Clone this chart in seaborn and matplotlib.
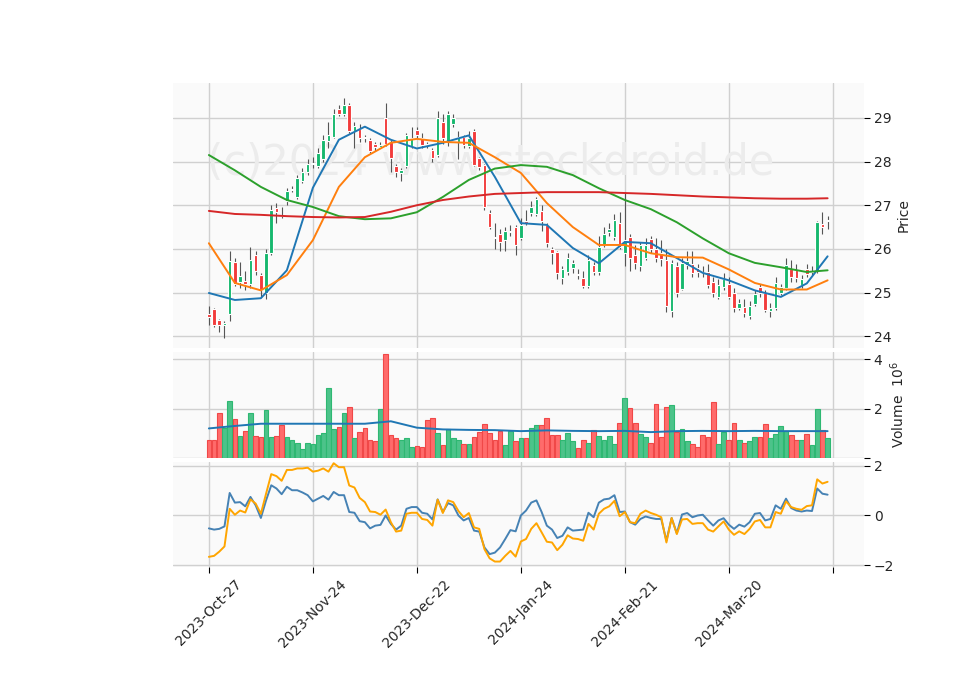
import numpy as np
import pandas as pd
import matplotlib
matplotlib.use("Agg")
import matplotlib.pyplot as plt
import seaborn as sns

# --- data ---
tick_labels = ["2023-Oct-27", "2023-Nov-24", "2023-Dec-22", "2024-Jan-24", "2024-Feb-21", "2024-Mar-20"]
tick_pos = [0, 20, 40, 60, 80, 100]

opens = [24.5, 24.62, 24.38, 24.25, 24.5, 25.7, 25.24, 25.26, 25.2, 25.85,
         25.4, 25.0, 25.9, 26.93, 26.77, 27.1, 27.35, 27.2, 27.55, 27.75,
         27.94, 27.9, 28.05, 28.47, 28.57, 29.2, 29.1, 29.3, 28.7, 28.75,
         28.56, 28.5, 28.4, 28.34, 29.0, 28.45, 27.9, 27.74, 27.9, 28.35,
         28.72, 28.55, 28.39, 28.27, 28.15, 28.9, 28.45, 28.85, 28.45, 28.56,
         28.35, 28.7, 28.08, 27.92, 26.82, 26.27, 26.35, 26.2, 26.38, 26.5,
         26.25, 26.62, 26.82, 26.8, 26.87, 26.55, 26.0, 25.92, 25.33, 25.47,
         25.56, 25.42, 25.33, 25.15, 25.62, 25.47, 26.1, 26.38, 26.27, 26.6,
         25.9, 26.27, 25.86, 25.6, 25.8, 26.22, 26.0, 25.9, 25.75, 24.57,
         25.6, 25.08, 25.63, 25.65, 25.56, 25.46, 25.47, 25.24, 24.9, 25.12,
         25.2, 25.0, 24.64, 24.67, 24.46, 24.73, 25.12, 24.99, 24.57, 24.65,
         25.0, 25.1, 25.54, 25.51, 25.17, 25.54, 25.46, 25.5, 26.58, 26.63]
closes = [24.45, 24.25, 24.25, 24.3, 25.72, 25.2, 25.38, 25.2, 25.75, 25.5,
          25.05, 25.9, 26.89, 26.85, 26.75, 27.33, 27.38, 27.62, 27.76, 27.95,
          27.96, 28.2, 28.5, 28.6, 29.1, 29.1, 29.3, 28.7, 28.82, 28.55,
          28.54, 28.25, 28.33, 28.36, 28.4, 28.08, 27.76, 27.8, 28.6, 28.55,
          28.6, 28.38, 28.37, 28.08, 29.0, 28.55, 29.08, 29.0, 28.56, 28.38,
          28.55, 27.92, 27.87, 26.96, 26.5, 26.25, 26.15, 26.4, 26.42, 26.08,
          26.55, 26.6, 26.96, 27.14, 26.64, 26.13, 25.9, 25.45, 25.55, 25.8,
          25.68, 25.4, 25.15, 25.74, 25.47, 26.05, 26.35, 26.45, 26.67, 26.05,
          26.2, 25.8, 25.67, 26.09, 26.08, 26.0, 25.8, 25.78, 24.69, 25.67,
          25.0, 25.67, 25.72, 25.45, 25.47, 25.45, 25.17, 24.98, 25.17, 25.3,
          24.9, 24.64, 24.76, 24.53, 24.69, 24.96, 24.99, 24.6, 24.64, 25.22,
          25.12, 25.63, 25.35, 25.33, 25.31, 25.42, 25.47, 26.61, 26.51, 26.64]
highs = [24.7, 24.65, 24.4, 24.35, 25.95, 25.8, 25.7, 25.5, 26.05, 25.95,
         25.45, 26.0, 27.0, 27.05, 26.95, 27.4, 27.45, 27.7, 27.85, 28.05,
         28.1, 28.3, 28.6, 28.9, 29.2, 29.3, 29.45, 29.35, 28.9, 28.85,
         28.6, 28.55, 28.45, 28.45, 29.35, 28.5, 27.95, 27.85, 28.65, 28.8,
         28.8, 28.65, 28.45, 28.3, 29.15, 29.1, 29.15, 29.1, 28.7, 28.6,
         28.7, 28.75, 28.1, 27.95, 26.9, 26.6, 26.45, 26.5, 26.55, 26.55,
         26.7, 26.9, 27.1, 27.2, 27.0, 26.6, 26.05, 25.95, 25.6, 25.9,
         25.75, 25.55, 25.5, 25.85, 25.7, 26.3, 26.5, 26.6, 26.8, 26.85,
         27.3, 26.35, 26.1, 26.15, 26.25, 26.3, 26.25, 26.2, 26.0, 25.75,
         25.7, 25.8, 25.95, 25.95, 25.65, 25.6, 25.65, 25.35, 25.3, 25.45,
         25.35, 25.1, 24.85, 24.85, 24.8, 25.05, 25.2, 25.05, 24.75, 25.35,
         25.2, 25.8, 25.75, 25.65, 25.4, 25.65, 25.6, 26.65, 26.85, 26.75]
lows = [24.25, 24.2, 24.1, 23.95, 24.35, 25.15, 25.1, 25.05, 25.1, 25.4,
        24.9, 24.85, 25.85, 26.6, 26.7, 27.0, 27.3, 27.15, 27.5, 27.7,
        27.85, 27.85, 28.0, 28.3, 28.55, 29.05, 29.05, 28.65, 28.3, 28.45,
        28.45, 28.2, 28.25, 28.3, 28.35, 27.75, 27.65, 27.55, 27.85, 28.3,
        28.55, 28.3, 28.3, 28.0, 28.1, 28.4, 28.35, 28.8, 28.05, 28.3,
        28.3, 27.9, 27.8, 26.9, 26.45, 26.0, 25.95, 25.95, 26.3, 25.85,
        26.2, 26.55, 26.75, 26.75, 26.4, 26.05, 25.65, 25.3, 25.2, 25.4,
        25.45, 25.3, 25.1, 25.1, 25.4, 25.4, 26.05, 26.3, 26.2, 26.0,
        25.6, 25.5, 25.55, 25.5, 25.75, 25.9, 25.7, 25.6, 24.55, 24.45,
        24.9, 25.05, 25.55, 25.35, 25.35, 25.35, 25.1, 24.9, 24.85, 25.05,
        24.85, 24.55, 24.6, 24.45, 24.4, 24.7, 24.9, 24.55, 24.45, 24.6,
        24.95, 25.05, 25.25, 25.25, 25.1, 25.35, 25.4, 25.45, 26.35, 26.45]

volume = [0.75, 0.75, 1.84, 1.2, 2.32, 1.58, 0.88, 1.1, 1.84, 0.88,
          0.84, 1.93, 0.84, 0.88, 1.33, 0.84, 0.75, 0.62, 0.38, 0.62,
          0.58, 0.93, 1.01, 2.84, 1.19, 1.25, 1.84, 2.06, 0.8, 1.06,
          1.23, 0.71, 0.67, 1.97, 4.2, 0.93, 0.8, 0.75, 0.8, 0.45,
          0.5, 0.45, 1.54, 1.62, 1.01, 0.54, 1.19, 0.8, 0.75, 0.58,
          0.58, 0.84, 1.06, 1.36, 1.01, 0.75, 1.1, 0.54, 1.1, 0.67,
          0.8, 0.8, 1.23, 1.33, 1.33, 1.62, 0.93, 0.93, 0.75, 1.01,
          0.67, 0.41, 0.71, 0.62, 1.14, 0.88, 0.75, 0.88, 0.58, 1.41,
          2.45, 2.01, 1.41, 0.97, 0.84, 0.62, 2.19, 0.84, 2.06, 2.14,
          1.06, 1.19, 0.67, 0.58, 0.45, 0.93, 0.84, 2.28, 0.58, 1.06,
          0.71, 1.41, 0.75, 0.62, 0.67, 0.84, 0.84, 1.36, 0.8, 0.97,
          1.28, 1.1, 0.93, 0.71, 0.75, 0.97, 0.54, 1.97, 1.14, 0.8]

# moving averages, sampled at these bar positions
ma_idx = [0, 5, 10, 15, 20, 25, 30, 35, 40, 45, 50, 55, 60, 65, 70, 75, 80, 85, 90, 95, 100, 105, 110, 115, 119]
ma_fast = [24.99, 24.83, 24.87, 25.51, 27.4, 28.5, 28.8, 28.5, 28.3, 28.43, 28.6, 27.65, 26.59, 26.55, 26.02, 25.67,
           26.16, 26.13, 25.79, 25.45, 25.28, 25.05, 24.9, 25.21, 25.83]
ma_mid = [26.13, 25.22, 25.05, 25.4, 26.2, 27.42, 28.1, 28.43, 28.52, 28.45, 28.43, 28.1, 27.74, 27.05, 26.5, 26.09,
          26.09, 25.9, 25.81, 25.8, 25.53, 25.22, 25.07, 25.07, 25.28]
ma_slow = [28.15, 27.8, 27.42, 27.12, 26.96, 26.75, 26.68, 26.7, 26.84, 27.19, 27.58, 27.84, 27.92, 27.88, 27.69, 27.39,
           27.12, 26.91, 26.61, 26.24, 25.9, 25.68, 25.58, 25.47, 25.51]
ma_long = [26.87, 26.8, 26.78, 26.75, 26.73, 26.72, 26.73, 26.85, 27.0, 27.12, 27.2, 27.26, 27.28, 27.3, 27.3, 27.3,
           27.28, 27.26, 27.23, 27.2, 27.18, 27.16, 27.15, 27.15, 27.16]
vol_ma = [1.2, 1.3, 1.39, 1.39, 1.39, 1.39, 1.39, 1.49, 1.23, 1.16, 1.14, 1.13, 1.09, 1.12, 1.1, 1.09,
          1.1, 1.05, 1.09, 1.1, 1.09, 1.1, 1.09, 1.09, 1.09]

osc_blue = [-0.52, -0.57, -0.54, -0.44, 0.91, 0.52, 0.54, 0.37, 0.75, 0.41,
            -0.1, 0.61, 1.22, 1.09, 0.86, 1.16, 1.02, 1.02, 0.93, 0.82,
            0.57, 0.68, 0.79, 0.64, 0.95, 0.82, 0.82, 0.14, 0.11, -0.23,
            -0.27, -0.52, -0.41, -0.38, 0.0, -0.34, -0.57, -0.41, 0.27, 0.34,
            0.34, 0.11, 0.07, -0.16, 0.65, 0.14, 0.5, 0.41, 0.0, -0.2,
            -0.1, -0.61, -0.65, -1.29, -1.56, -1.5, -1.29, -0.95, -0.59, -0.64,
            0.0, 0.2, 0.52, 0.61, 0.14, -0.41, -0.57, -0.91, -0.82, -0.48,
            -0.61, -0.59, -0.57, 0.11, -0.07, 0.52, 0.65, 0.68, 0.82, 0.14,
            0.16, -0.27, -0.37, -0.14, -0.04, -0.1, -0.14, -0.14, -1.02, -0.1,
            -0.72, 0.04, 0.1, -0.07, 0.0, 0.03, -0.2, -0.41, -0.2, -0.11,
            -0.37, -0.54, -0.37, -0.45, -0.27, 0.07, 0.1, -0.2, -0.14, 0.41,
            0.27, 0.68, 0.3, 0.2, 0.16, 0.2, 0.18, 1.09, 0.88, 0.84]
osc_orange = [-1.67, -1.63, -1.46, -1.25, 0.27, 0.03, 0.2, 0.12, 0.65, 0.48,
              0.07, 0.88, 1.67, 1.59, 1.4, 1.84, 1.84, 1.9, 1.9, 1.93,
              1.77, 1.81, 1.9, 1.77, 2.11, 1.95, 1.95, 1.21, 1.13, 0.71,
              0.54, 0.16, 0.14, 0.03, 0.24, -0.27, -0.65, -0.61, 0.07, 0.11,
              0.11, -0.14, -0.18, -0.41, 0.64, 0.1, 0.61, 0.54, 0.18, -0.07,
              0.1, -0.48, -0.54, -1.36, -1.73, -1.86, -1.86, -1.63, -1.43, -1.66,
              -1.05, -0.95, -0.54, -0.31, -0.68, -1.06, -1.09, -1.4, -1.18, -0.8,
              -0.93, -0.95, -1.02, -0.34, -0.57, 0.07, 0.27, 0.37, 0.59, -0.03,
              0.14, -0.27, -0.31, 0.07, 0.2, 0.1, 0.03, -0.07, -1.09, -0.1,
              -0.75, -0.16, -0.14, -0.34, -0.31, -0.31, -0.57, -0.65, -0.44, -0.24,
              -0.57, -0.78, -0.64, -0.75, -0.54, -0.24, -0.18, -0.48, -0.48, 0.14,
              0.07, 0.57, 0.34, 0.27, 0.23, 0.38, 0.41, 1.46, 1.29, 1.36]

# --- plotting ---
sns.set_theme(style="whitegrid", context="paper",
              rc={"axes.facecolor": "#fafafa", "grid.color": "#d0d0d0", "axes.edgecolor": "#fafafa",
                  "font.family": "DejaVu Sans", "font.size": 10, "axes.labelsize": 10,
                  "xtick.labelsize": 10, "ytick.labelsize": 10, "grid.linewidth": 1.0})

n = len(closes)
df = pd.DataFrame({"i": np.arange(n), "open": opens, "close": closes, "high": highs, "low": lows,
                   "vol": volume, "osc1": osc_blue, "osc2": osc_orange})
ma = pd.DataFrame({"i": ma_idx, "fast": ma_fast, "mid": ma_mid, "slow": ma_slow, "long": ma_long, "vma": vol_ma})

up_col, dn_col = "#16b86e", "#f23b3b"
vup_col, vdn_col = "#4cc38a", "#ff6b6b"
up = df["close"] >= df["open"]

fig = plt.figure(figsize=(9.6, 6.9), dpi=100)
ax1 = fig.add_axes([173/960, 1-348/690, 691/960, 265/690])
ax2 = fig.add_axes([173/960, 1-458/690, 691/960, 106/690], sharex=ax1)
ax3 = fig.add_axes([173/960, 1-567/690, 691/960, 105/690], sharex=ax1)

# candles
ax1.vlines(df["i"], df["low"], df["high"], color="#555555", lw=0.8, zorder=2)
body_lo = df[["open", "close"]].min(axis=1)
body_h = (df["close"] - df["open"]).abs().clip(lower=0.03)
ax1.bar(df["i"], body_h, bottom=body_lo, width=0.7,
        color=np.where(up, up_col, dn_col), zorder=3)

for col, c in [("fast", "#1f77b4"), ("mid", "#ff7f0e"), ("slow", "#2ca02c"), ("long", "#d62728")]:
    sns.lineplot(data=ma, x="i", y=col, ax=ax1, color=c, lw=1.4, zorder=4)

ax1.text(0.46, 0.7, "(c)2024 www.stockdroid.de", transform=ax1.transAxes, ha="center", va="center",
         fontsize=30, color="#ececec", zorder=1)
ax1.set_ylim(23.73, 29.8)
ax1.set_yticks([24, 25, 26, 27, 28, 29])
ax1.set_ylabel("Price")

# volume
ax2.bar(df["i"], df["vol"], width=0.9, color=np.where(up, vup_col, vdn_col),
        edgecolor=np.where(up, "#2eb872", "#f04848"), lw=0.8, zorder=2)
sns.lineplot(data=ma, x="i", y="vma", ax=ax2, color="#1f77b4", lw=1.4, zorder=3)
ax2.set_ylim(0, 4.3)
ax2.set_yticks([0, 2, 4])
ax2.set_yticklabels(["", "2", "4"])
ax2.set_ylabel("Volume  $10^6$")

# oscillator
sns.lineplot(data=df, x="i", y="osc1", ax=ax3, color="#4682b4", lw=1.4)
sns.lineplot(data=df, x="i", y="osc2", ax=ax3, color="#ffa500", lw=1.4)
ax3.set_ylim(-2.08, 2.16)
ax3.set_yticks([-2, 0, 2])
ax3.set_ylabel("")

for ax in (ax1, ax2, ax3):
    ax.yaxis.tick_right()
    ax.yaxis.set_label_position("right")
    ax.tick_params(axis="y", length=4, width=0.8, color="black", pad=3, right=True)
    ax.set_xlabel("")
    for s in ax.spines.values():
        s.set_visible(False)

ax1.set_xlim(-6.9, 126)
ax3.set_xticks(tick_pos + [120])
ax3.set_xticklabels(tick_labels + [""], rotation=45, ha="center")
ax3.tick_params(axis="x", length=4, width=0.8, color="black", bottom=True)
plt.setp(ax1.get_xticklabels(), visible=False)
plt.setp(ax2.get_xticklabels(), visible=False)

fig.savefig("out.png", dpi=100)
